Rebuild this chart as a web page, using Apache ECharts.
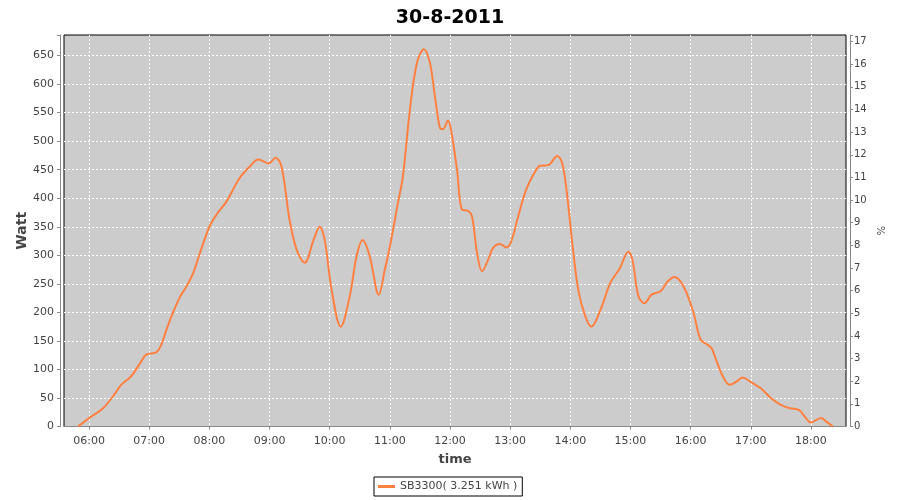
<!DOCTYPE html>
<html>
<head>
<meta charset="utf-8">
<script src="https://cdn.jsdelivr.net/npm/echarts@6/dist/echarts.min.js"></script>
<style>html,body{margin:0;padding:0;background:#fff}#c{width:900px;height:500px}</style>
</head>
<body>
<div id="c"></div>
<script>
var titleText = '30-8-2011';
var seriesName = 'SB3300( 3.251 kWh )';
var xName = 'time';
var yLeftName = 'Watt';
var yRightName = '%';
var xStart = '05:35';
var xEnd = '18:35';
var wattMax = 686;
var pctMax = 17.29;
var times = ['05:49','06:01','06:14','06:26','06:32','06:42','06:51','06:57','07:07','07:12','07:17','07:24','07:31','07:37','07:44','07:50','08:00','08:07','08:17','08:30','08:40','08:49','08:59','09:06','09:12','09:20','09:27','09:35','09:44','09:50','09:55','10:02','10:11','10:20','10:27','10:33','10:40','10:49','10:55','11:00','11:08','11:13','11:20','11:27','11:34','11:40','11:45','11:50','11:53','11:58','12:01','12:07','12:12','12:18','12:22','12:27','12:32','12:38','12:43','12:50','12:56','13:01','13:08','13:16','13:25','13:30','13:38','13:47','13:52','13:57','14:02','14:08','14:15','14:21','14:30','14:40','14:49','14:58','15:02','15:08','15:14','15:21','15:30','15:37','15:44','15:50','15:56','16:03','16:10','16:17','16:21','16:26','16:33','16:39','16:46','16:52','16:59','17:10','17:20','17:30','17:39','17:48','17:54','18:00','18:10','18:15','18:22'];
var watts = [0,16,32,58,73,88,111,126,130,143,169,201,228,245,269,301,350,371,394,435,455,468,461,471,455,362,310,287,327,350,327,239,175,228,300,327,298,231,275,315,391,438,555,637,661,637,578,523,521,536,520,450,380,378,368,304,272,292,313,320,314,324,368,415,447,457,458,474,461,403,321,239,193,175,204,252,276,306,292,228,216,231,237,254,262,254,234,199,152,143,137,114,85,73,79,86,79,67,50,38,32,29,17,7,15,9,0];

function ts(hm){ var p = hm.split(':'); return new Date(2011, 7, 30, +p[0], +p[1]).getTime(); }
var data = times.map(function(t, i){ return [ts(t), watts[i]]; });

var FONT = 'DejaVu Sans';
var gridLine = {show: true, showMinLine: false, showMaxLine: false, lineStyle: {color: '#fff', type: [2, 2], width: 1}};
var chart = echarts.init(document.getElementById('c'), null, {renderer: 'canvas'});
chart.setOption({
  animation: false,
  backgroundColor: '#ffffff',
  title: {
    text: titleText, left: 'center', top: 4,
    textStyle: {fontFamily: FONT, fontSize: 19, fontWeight: 'bold', color: '#000'}
  },
  legend: {
    left: 374, top: 477, padding: [4, 5, 4, 4],
    borderColor: '#000', borderWidth: 1, borderRadius: 0,
    icon: 'rect', itemWidth: 17, itemHeight: 3,
    textStyle: {fontFamily: FONT, fontSize: 11, color: '#444'},
    data: [seriesName]
  },
  grid: {
    left: 64, right: 54, top: 35, bottom: 73.5,
    show: true, backgroundColor: '#CCCCCC', borderColor: '#000', borderWidth: 1,
    containLabel: false
  },
  xAxis: {
    type: 'time', min: ts(xStart), max: ts(xEnd),
    minInterval: 3600000, maxInterval: 3600000,
    offset: 4,
    name: xName, nameLocation: 'middle', nameGap: 23, nameMoveOverlap: false,
    nameTextStyle: {fontFamily: FONT, fontSize: 13, fontWeight: 'bold', color: '#444'},
    axisLine: {show: true, lineStyle: {color: '#888', width: 1}},
    axisTick: {show: true, length: 3, lineStyle: {color: '#888'}},
    axisLabel: {formatter: '{HH}:{mm}', fontFamily: FONT, fontSize: 11, color: '#444', margin: 5, hideOverlap: false},
    splitLine: gridLine
  },
  yAxis: [{
    type: 'value', min: 0, max: wattMax, interval: 50, position: 'left', offset: 4,
    name: yLeftName, nameLocation: 'middle', nameGap: 31, nameRotate: 90, nameMoveOverlap: false,
    nameTextStyle: {fontFamily: FONT, fontSize: 14, fontWeight: 'bold', color: '#444'},
    axisLine: {show: true, lineStyle: {color: '#888', width: 1}},
    axisTick: {show: true, length: 3, lineStyle: {color: '#888'}},
    axisLabel: {fontFamily: FONT, fontSize: 11, color: '#444', margin: 6,
      formatter: function(v){ return (v % 50 === 0) ? String(v) : ''; }},
    splitLine: gridLine
  }, {
    type: 'value', min: 0, max: pctMax, interval: 1, position: 'right', offset: 4,
    name: yRightName, nameLocation: 'middle', nameGap: 25, nameRotate: -90, nameMoveOverlap: false,
    nameTextStyle: {fontFamily: FONT, fontSize: 10, color: '#444'},
    axisLine: {show: true, lineStyle: {color: '#888', width: 1}},
    axisTick: {show: true, length: 3, lineStyle: {color: '#888'}},
    axisLabel: {fontFamily: FONT, fontSize: 10, color: '#444', margin: 4,
      formatter: function(v){ return (Math.abs(v - Math.round(v)) < 1e-6) ? String(Math.round(v)) : ''; }},
    splitLine: {show: false}
  }],
  series: [{
    name: seriesName, type: 'line', yAxisIndex: 0,
    data: data, showSymbol: false, symbol: 'none',
    smooth: 0.35,
    lineStyle: {color: '#FF8040', width: 2},
    itemStyle: {color: '#FF8040'}
  }]
});
</script>
</body>
</html>
